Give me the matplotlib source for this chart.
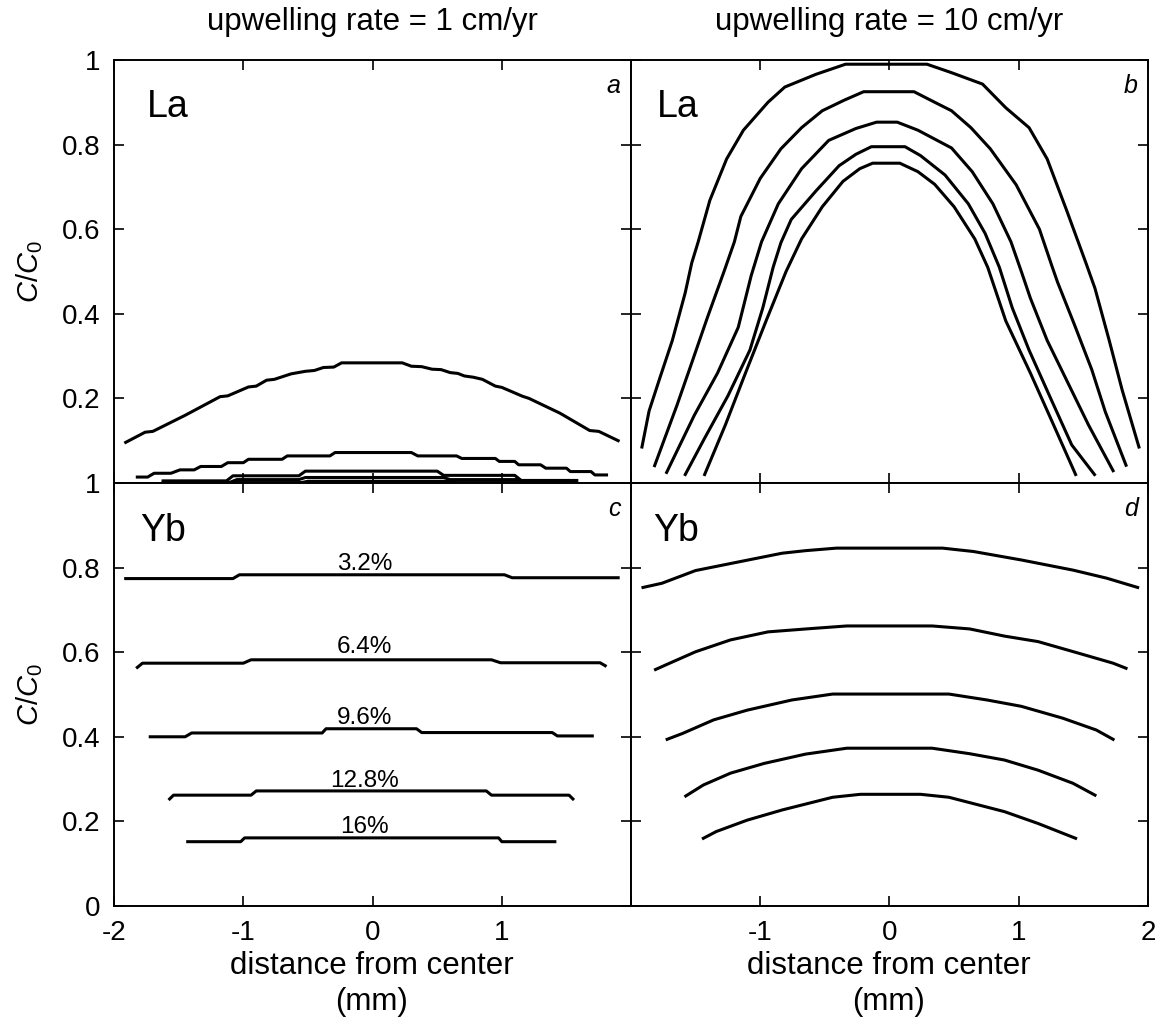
import matplotlib
matplotlib.use('Agg')
import matplotlib.pyplot as plt

plt.rcParams['font.family'] = ['Liberation Sans', 'DejaVu Sans']
plt.rcParams['axes.unicode_minus'] = False
plt.rcParams['mathtext.fontset'] = 'custom'
plt.rcParams['mathtext.it'] = 'Liberation Sans:italic'
plt.rcParams['mathtext.rm'] = 'Liberation Sans'

# ---- panel a: La, upwelling 1 cm/yr ----
a1_x = [-1.91, -1.76, -1.70, -1.45, -1.18, -1.12, -0.96, -0.90, -0.82, -0.76, -0.70, -0.63,
        -0.52, -0.45, -0.38, -0.30, -0.24, 0.23, 0.30, 0.38, 0.46, 0.53, 0.60, 0.66,
        0.71, 0.78, 0.85, 0.95, 1.00, 1.16, 1.21, 1.45, 1.68, 1.75, 1.90]
a1_y = [0.096, 0.120, 0.122, 0.160, 0.204, 0.206, 0.227, 0.229, 0.243, 0.245, 0.251, 0.258,
        0.264, 0.266, 0.273, 0.274, 0.284, 0.284, 0.276, 0.275, 0.269, 0.268, 0.261, 0.259,
        0.253, 0.250, 0.245, 0.229, 0.226, 0.205, 0.200, 0.165, 0.124, 0.122, 0.100]
a2_x = [-1.82, -1.74, -1.69, -1.56, -1.49, -1.38, -1.33, -1.17, -1.12, -1.00,
        -0.96, -0.70, -0.66, -0.33, -0.29, 0.30, 0.35, 0.65, 0.69, 0.95,
        0.98, 1.10, 1.13, 1.30, 1.34, 1.50, 1.53, 1.69, 1.72, 1.81]
a2_y = [0.014, 0.014, 0.023, 0.023, 0.031, 0.031, 0.039, 0.039, 0.048, 0.048,
        0.056, 0.056, 0.064, 0.064, 0.072, 0.072, 0.064, 0.064, 0.058, 0.058,
        0.051, 0.051, 0.043, 0.043, 0.035, 0.035, 0.027, 0.027, 0.019, 0.019]
a3_x = [-1.62, -1.13, -1.08, -0.57, -0.52, 0.50, 0.55, 1.10, 1.15, 1.58]
a3_y = [0.005, 0.005, 0.017, 0.017, 0.028, 0.028, 0.018, 0.018, 0.006, 0.006]
a4_x = [-1.62, -1.10, -1.05, -0.57, -0.52, 0.55, 0.60, 1.12, 1.17, 1.55]
a4_y = [0.002, 0.002, 0.008, 0.008, 0.013, 0.013, 0.008, 0.008, 0.002, 0.002]
a5_x = [-1.50, -0.55, -0.50, 0.60, 0.65, 1.50]
a5_y = [0.001, 0.001, 0.004, 0.004, 0.001, 0.001]

# ---- panel b: La, upwelling 10 cm/yr ----
b1_x = [-1.915, -1.86, -1.78, -1.68, -1.58, -1.53, -1.48, -1.39, -1.26, -1.13, -0.94, -0.81,
        -0.57, -0.34, 0.29, 0.48, 0.72, 0.90, 1.08, 1.22, 1.37, 1.46, 1.52, 1.59, 1.70, 1.80, 1.93]
b1_y = [0.085, 0.170, 0.245, 0.337, 0.450, 0.520, 0.570, 0.668, 0.766, 0.834, 0.900, 0.936,
        0.966, 0.990, 0.990, 0.970, 0.943, 0.887, 0.840, 0.766, 0.645, 0.570, 0.520, 0.460, 0.337, 0.220, 0.085]
b2_x = [-1.817, -1.645, -1.54, -1.41, -1.28, -1.20, -1.15, -1.00, -0.84, -0.68, -0.52, -0.35, -0.20,
        0.19, 0.35, 0.48, 0.63, 0.78, 0.98, 1.16, 1.26, 1.30, 1.43, 1.565, 1.67, 1.83]
b2_y = [0.041, 0.183, 0.275, 0.390, 0.500, 0.570, 0.630, 0.720, 0.790, 0.840, 0.880, 0.905, 0.925,
        0.925, 0.900, 0.880, 0.840, 0.790, 0.705, 0.600, 0.510, 0.475, 0.375, 0.268, 0.168, 0.042]
b3_x = [-1.724, -1.51, -1.33, -1.17, -1.07, -0.99, -0.86, -0.68, -0.47, -0.26, -0.10,
        0.06, 0.22, 0.48, 0.64, 0.80, 0.94, 1.02, 1.09, 1.22, 1.38, 1.54, 1.73]
b3_y = [0.025, 0.160, 0.260, 0.368, 0.490, 0.570, 0.660, 0.743, 0.810, 0.838, 0.853,
        0.853, 0.834, 0.792, 0.736, 0.660, 0.570, 0.500, 0.437, 0.337, 0.237, 0.137, 0.029]
b4_x = [-1.58, -1.43, -1.25, -1.08, -0.98, -0.90, -0.84, -0.76, -0.57, -0.39, -0.26, -0.14,
        0.12, 0.24, 0.43, 0.61, 0.74, 0.85, 0.95, 1.08, 1.25, 1.41, 1.586]
b4_y = [0.020, 0.106, 0.206, 0.314, 0.414, 0.510, 0.568, 0.623, 0.690, 0.750, 0.777, 0.795,
        0.795, 0.774, 0.728, 0.660, 0.590, 0.510, 0.414, 0.314, 0.198, 0.090, 0.020]
b5_x = [-1.43, -1.27, -1.114, -0.955, -0.80, -0.68, -0.52, -0.36, -0.23, -0.13,
        0.08, 0.22, 0.35, 0.50, 0.66, 0.76, 0.90, 1.09, 1.27, 1.44]
b5_y = [0.020, 0.137, 0.260, 0.383, 0.500, 0.577, 0.653, 0.713, 0.743, 0.756,
        0.756, 0.736, 0.706, 0.653, 0.577, 0.510, 0.383, 0.260, 0.137, 0.020]

# ---- panel c: Yb, upwelling 1 cm/yr ----
c1_x = [-1.91, -1.08, -1.03, 1.02, 1.08, 1.90]
c1_y = [0.774, 0.774, 0.783, 0.783, 0.776, 0.776]
c2_x = [-1.82, -1.78, -1.00, -0.94, 0.92, 0.99, 1.76, 1.80]
c2_y = [0.564, 0.574, 0.574, 0.582, 0.582, 0.575, 0.575, 0.568]
c3_x = [-1.72, -1.45, -1.40, -0.39, -0.36, 0.34, 0.38, 1.39, 1.43, 1.70]
c3_y = [0.400, 0.400, 0.409, 0.409, 0.419, 0.419, 0.410, 0.410, 0.402, 0.402]
c4_x = [-1.57, -1.54, -0.94, -0.90, 0.88, 0.92, 1.52, 1.55]
c4_y = [0.253, 0.262, 0.262, 0.272, 0.272, 0.262, 0.262, 0.253]
c5_x = [-1.43, -1.02, -0.99, 0.975, 1.00, 1.41]
c5_y = [0.152, 0.152, 0.161, 0.161, 0.152, 0.152]
pct_labels = ['3.2%', '6.4%', '9.6%', '12.8%', '16%']
pct_y = [0.794, 0.597, 0.430, 0.282, 0.172]

# ---- panel d: Yb, upwelling 10 cm/yr ----
d1_x = [-1.907, -1.76, -1.50, -1.125, -0.83, -0.65, -0.41, 0.41, 0.65, 1.02, 1.42, 1.68, 1.92]
d1_y = [0.753, 0.763, 0.793, 0.816, 0.834, 0.840, 0.846, 0.846, 0.838, 0.818, 0.794, 0.775, 0.753]
d2_x = [-1.81, -1.73, -1.50, -1.23, -0.94, -0.60, -0.33, 0.33, 0.62, 0.89, 1.15, 1.47, 1.73, 1.83]
d2_y = [0.559, 0.570, 0.601, 0.629, 0.648, 0.656, 0.662, 0.662, 0.655, 0.638, 0.625, 0.597, 0.574, 0.562]
d3_x = [-1.72, -1.60, -1.36, -1.10, -0.755, -0.44, 0.46, 0.755, 1.02, 1.34, 1.60, 1.73]
d3_y = [0.394, 0.408, 0.440, 0.463, 0.487, 0.501, 0.501, 0.487, 0.472, 0.444, 0.416, 0.394]
d4_x = [-1.576, -1.44, -1.23, -0.97, -0.65, -0.33, 0.33, 0.62, 0.89, 1.15, 1.42, 1.59]
d4_y = [0.260, 0.286, 0.314, 0.337, 0.359, 0.373, 0.373, 0.360, 0.345, 0.321, 0.290, 0.262]
d5_x = [-1.44, -1.34, -1.10, -0.83, -0.44, -0.225, 0.24, 0.46, 0.89, 1.15, 1.44]
d5_y = [0.160, 0.176, 0.203, 0.227, 0.257, 0.264, 0.264, 0.257, 0.223, 0.195, 0.160]

xticks = [-2, -1, 0, 1, 2]
yticks = [0, 0.2, 0.4, 0.6, 0.8, 1]
ytick_labels = ['0', '0.2', '0.4', '0.6', '0.8', '1']

fig = plt.figure(figsize=(11.65, 10.36), dpi=100)
ax_a = fig.add_axes([0.0979, 0.5338, 0.4438, 0.4083])
ax_b = fig.add_axes([0.5416, 0.5338, 0.4438, 0.4083])
ax_c = fig.add_axes([0.0979, 0.1255, 0.4438, 0.4083])
ax_d = fig.add_axes([0.5416, 0.1255, 0.4438, 0.4083])

lw = 2.2
for x, y in [(a1_x, a1_y), (a2_x, a2_y), (a3_x, a3_y), (a4_x, a4_y), (a5_x, a5_y)]:
    ax_a.plot(x, y, color='black', lw=lw)
for x, y in [(b1_x, b1_y), (b2_x, b2_y), (b3_x, b3_y), (b4_x, b4_y), (b5_x, b5_y)]:
    ax_b.plot(x, y, color='black', lw=lw)
for x, y in [(c1_x, c1_y), (c2_x, c2_y), (c3_x, c3_y), (c4_x, c4_y), (c5_x, c5_y)]:
    ax_c.plot(x, y, color='black', lw=lw)
for x, y in [(d1_x, d1_y), (d2_x, d2_y), (d3_x, d3_y), (d4_x, d4_y), (d5_x, d5_y)]:
    ax_d.plot(x, y, color='black', lw=lw)

for lab, yy in zip(pct_labels, pct_y):
    ax_c.text(-0.06, yy, lab, ha='center', va='baseline', fontsize=17.5)

for ax in [ax_a, ax_b, ax_c, ax_d]:
    ax.set_xlim(-2, 2)
    ax.set_ylim(0, 1)
    ax.set_xticks(xticks)
    ax.set_yticks(yticks)
    ax.tick_params(direction='in', length=7, width=1.2, top=True, right=True,
                   labelsize=20, pad=10)
    for s in ax.spines.values():
        s.set_linewidth(1.4)

ax_a.set_xticklabels([])
ax_b.set_xticklabels([])
ax_b.set_yticklabels([])
ax_d.set_yticklabels([])
ax_a.set_yticklabels([''] + ytick_labels[1:])
ax_c.set_yticklabels(ytick_labels)
ax_c.set_xticklabels(['-2', '-1', '0', '1', ''])
ax_d.set_xticklabels(['', '-1', '0', '1', '2'])

# element names and panel letters
ax_a.text(0.064, 0.865, 'La', transform=ax_a.transAxes, fontsize=27, va='baseline')
ax_b.text(0.05, 0.865, 'La', transform=ax_b.transAxes, fontsize=27, va='baseline')
ax_c.text(0.05, 0.863, 'Yb', transform=ax_c.transAxes, fontsize=27, va='baseline')
ax_d.text(0.043, 0.863, 'Yb', transform=ax_d.transAxes, fontsize=27, va='baseline')
for ax, letter in [(ax_a, 'a'), (ax_b, 'b'), (ax_c, 'c'), (ax_d, 'd')]:
    ax.text(0.98, 0.922, letter, transform=ax.transAxes, fontsize=18,
            style='italic', ha='right', va='baseline')

fig.text(372 / 1165, 1 - 30 / 1036, 'upwelling rate = 1 cm/yr', ha='center',
         va='baseline', fontsize=22.5)
fig.text(889 / 1165, 1 - 30 / 1036, 'upwelling rate = 10 cm/yr', ha='center',
         va='baseline', fontsize=22.5)
fig.text(30 / 1165, 1 - 272 / 1036, r'$C/C_0$', rotation=90, ha='center',
         va='center', fontsize=21)
fig.text(30 / 1165, 1 - 695 / 1036, r'$C/C_0$', rotation=90, ha='center',
         va='center', fontsize=21)
fig.text(372 / 1165, 1 - 984 / 1036, 'distance from center\n(mm)', ha='center',
         va='center', fontsize=22.5, linespacing=1.25)
fig.text(889 / 1165, 1 - 984 / 1036, 'distance from center\n(mm)', ha='center',
         va='center', fontsize=22.5, linespacing=1.25)

fig.savefig('out.png', dpi=100)
